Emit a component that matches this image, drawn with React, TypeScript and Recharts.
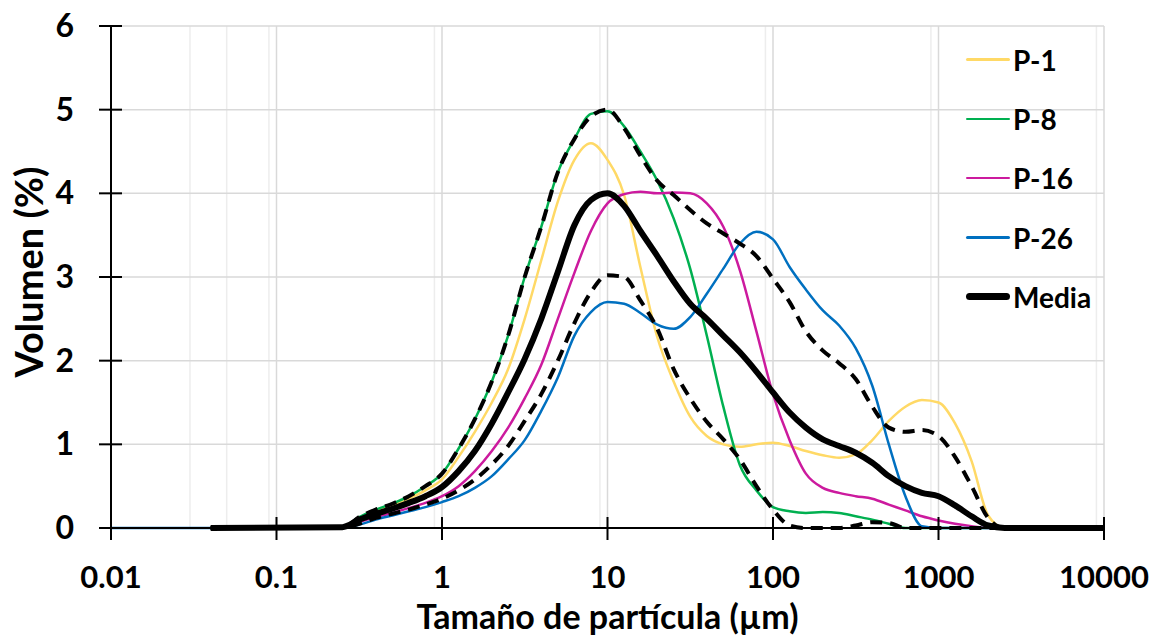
import { LineChart, Line, XAxis, YAxis, CartesianGrid } from 'recharts';

// particle size classes (µm)
const sizes = [
  0.01, 0.04, 0.25, 0.316, 0.398, 0.501, 0.631, 0.794, 1, 1.26, 1.58, 2, 2.51, 3.16, 3.98, 5.01,
  6.31, 7.94, 10, 12.6, 15.8, 20, 25.1, 31.6, 39.8, 50.1, 63.1, 79.4, 100, 126, 158, 200, 251,
  316, 398, 501, 631, 794, 1000, 1259, 1585, 1995, 2512, 10000,
];

const p1 = [
  null, 0, 0.02, 0.1, 0.2, 0.27, 0.35, 0.45, 0.58, 0.85, 1.15, 1.5, 1.9, 2.5, 3.2, 3.9, 4.4, 4.6,
  4.4, 3.98, 3.12, 2.28, 1.75, 1.33, 1.1, 1.0, 0.97, 1.0, 1.02, 0.98, 0.92, 0.87, 0.84, 0.88,
  1.05, 1.28, 1.45, 1.53, 1.5, 1.25, 0.8, 0.15, 0, 0,
];
const p8 = [
  null, 0, 0, 0.13, 0.22, 0.29, 0.38, 0.5, 0.65, 0.95, 1.3, 1.75, 2.3, 3.0, 3.6, 4.25, 4.65, 4.95,
  4.98, 4.8, 4.5, 4.15, 3.7, 3.1, 2.3, 1.45, 0.75, 0.45, 0.25, 0.2, 0.18, 0.19, 0.18, 0.14, 0.1,
  0.05, 0, 0, 0, 0, 0, 0, 0, 0,
];
const p16 = [
  null, 0, 0, 0.07, 0.13, 0.18, 0.24, 0.3, 0.38, 0.5, 0.68, 0.92, 1.2, 1.55, 1.95, 2.5, 3.05, 3.55,
  3.88, 3.99, 4.02, 4.0, 4.01, 4.0, 3.88, 3.6, 3.08, 2.35, 1.6, 1.05, 0.65, 0.48, 0.42, 0.38, 0.35,
  0.28, 0.21, 0.14, 0.09, 0.05, 0.02, 0, 0, 0,
];
const p26 = [
  0, 0, 0, 0.04, 0.1, 0.15, 0.2, 0.25, 0.31, 0.38, 0.48, 0.62, 0.82, 1.05, 1.4, 1.8, 2.3, 2.58,
  2.7, 2.68, 2.57, 2.43, 2.38, 2.52, 2.8, 3.1, 3.4, 3.54, 3.45, 3.12, 2.85, 2.6, 2.42, 2.15, 1.7,
  1.0, 0.38, 0.02, 0, 0, 0, 0, 0, 0,
];
const media = [
  null, 0, 0.01, 0.1, 0.17, 0.23, 0.3, 0.38, 0.49, 0.68, 0.92, 1.25, 1.62, 2.02, 2.5, 3.06, 3.62,
  3.92, 4.0, 3.85, 3.55, 3.25, 2.95, 2.68, 2.5, 2.3, 2.1, 1.87, 1.62, 1.38, 1.2, 1.06, 0.98, 0.9,
  0.78, 0.62, 0.5, 0.42, 0.38, 0.27, 0.14, 0.03, 0, 0,
];
const upper = [
  null, 0, 0, 0.13, 0.22, 0.29, 0.38, 0.5, 0.65, 0.95, 1.3, 1.75, 2.3, 3.0, 3.6, 4.25, 4.65, 4.92,
  5.0, 4.78, 4.45, 4.15, 3.98, 3.8, 3.64, 3.52, 3.4, 3.25, 2.98, 2.7, 2.35, 2.12, 1.97, 1.78,
  1.45, 1.2, 1.15, 1.17, 1.1, 0.85, 0.5, 0.12, 0, 0,
];
const lower = [
  null, 0, 0, 0.05, 0.12, 0.17, 0.22, 0.28, 0.35, 0.45, 0.58, 0.76, 0.98, 1.28, 1.6, 2.0, 2.45,
  2.82, 3.02, 3.0, 2.72, 2.38, 1.9, 1.55, 1.27, 1.06, 0.82, 0.5, 0.22, 0.03, 0, 0, 0, 0.03, 0.07,
  0.06, 0, 0, 0, 0, 0, 0, 0, 0,
];

const xTicks = [0.01, 0.1, 1, 10, 100, 1000, 10000];
const yTicks = [0, 1, 2, 3, 4, 5, 6];
const minorX = [2, 3, 4, 5, 6, 7, 8, 9].flatMap((m) => [0.01, 0.1, 1, 10, 100, 1000].map((d) => m * d));

const data = sizes.map((size, i) => ({
  size,
  p1: p1[i],
  p8: p8[i],
  p16: p16[i],
  p26: p26[i],
  media: media[i],
  upper: upper[i],
  lower: lower[i],
}));

const series = [
  { key: 'p1', name: 'P-1', color: '#FFD966', width: 2.5 },
  { key: 'p8', name: 'P-8', color: '#00B050', width: 2.5 },
  { key: 'p16', name: 'P-16', color: '#CC1A9E', width: 2.5 },
  { key: 'p26', name: 'P-26', color: '#0070C0', width: 2.5 },
];

const FONT = 'Lato, "Open Sans", sans-serif';

const XTick = ({ x, y, payload }: any) => (
  <g>
    <line x1={x} x2={x} y1={y - 11} y2={y + 12} stroke="#000" strokeWidth={2} />
    <text x={x} y={y + 60} textAnchor="middle" fontFamily={FONT} fontWeight="bold" fontSize={31} fill="#000">
      {payload.value}
    </text>
  </g>
);

const YTick = ({ x, y, payload }: any) => (
  <g>
    <line x1={x - 12} x2={x + 11} y1={y} y2={y} stroke="#000" strokeWidth={2} />
    <text x={x - 37} y={y + 11} textAnchor="end" fontFamily={FONT} fontWeight="bold" fontSize={32} fill="#000">
      {payload.value}
    </text>
  </g>
);

export default function App() {
  return (
    <div style={{ position: 'absolute', left: 0, top: 0, width: 1162, height: 637, background: '#fff' }}>
      <LineChart width={1162} height={637} data={data} margin={{ top: 26, right: 58, left: 0, bottom: 0 }}>
        <CartesianGrid horizontal={false} verticalValues={minorX} stroke="#EDEDED" strokeWidth={1.5} />
        <CartesianGrid verticalValues={xTicks} stroke="#D9D9D9" strokeWidth={1.5} />
        <XAxis
          dataKey="size"
          type="number"
          scale="log"
          domain={[0.01, 10000]}
          ticks={xTicks}
          allowDataOverflow
          height={109}
          tickSize={0}
          tickMargin={0}
          tick={<XTick />}
          stroke="#000"
          strokeWidth={2}
          label={{
            content: ({ viewBox }: any) => (
              <text
                x={viewBox.x + viewBox.width / 2}
                y={viewBox.y + 101}
                textAnchor="middle"
                fontFamily={FONT}
                fontWeight="bold"
                fontSize={34}
                fill="#000"
              >
                Tamaño de partícula (µm)
              </text>
            ),
          }}
        />
        <YAxis
          type="number"
          domain={[0, 6]}
          ticks={yTicks}
          width={111}
          tickSize={0}
          tickMargin={0}
          tick={<YTick />}
          stroke="#000"
          strokeWidth={2}
          label={{
            content: ({ viewBox }: any) => {
              const cx = viewBox.x + 28;
              const cy = viewBox.y + viewBox.height / 2 - 5;
              return (
                <text
                  x={cx}
                  y={cy}
                  transform={`rotate(-90 ${cx} ${cy})`}
                  textAnchor="middle"
                  dominantBaseline="central"
                  fontFamily={FONT}
                  fontWeight="bold"
                  fontSize={38}
                  fill="#000"
                >
                  Volumen (%)
                </text>
              );
            },
          }}
        />
        {series.map((s) => (
          <Line
            key={s.key}
            type="monotone"
            dataKey={s.key}
            name={s.name}
            stroke={s.color}
            strokeWidth={s.width}
            dot={false}
            isAnimationActive={false}
          />
        ))}
        <Line type="monotone" dataKey="upper" stroke="#000" strokeWidth={4} strokeDasharray="12 8" dot={false} isAnimationActive={false} />
        <Line type="monotone" dataKey="lower" stroke="#000" strokeWidth={4} strokeDasharray="12 8" dot={false} isAnimationActive={false} />
        <Line type="monotone" dataKey="media" name="Media" stroke="#000" strokeWidth={6} dot={false} isAnimationActive={false} />
      </LineChart>
      <div style={{ position: 'absolute', left: 966, top: 30, fontFamily: FONT, fontWeight: 'bold', fontSize: 28 }}>
        {[...series, { key: 'media', name: 'Media', color: '#000', width: 7 }].map((s) => (
          <div key={s.key} style={{ display: 'flex', alignItems: 'center', height: 59.3 }}>
            <span
              style={{
                display: 'inline-block',
                width: 44,
                height: s.width,
                borderRadius: s.width,
                background: s.color,
                marginRight: 3,
              }}
            />
            <span>{s.name}</span>
          </div>
        ))}
      </div>
    </div>
  );
}
